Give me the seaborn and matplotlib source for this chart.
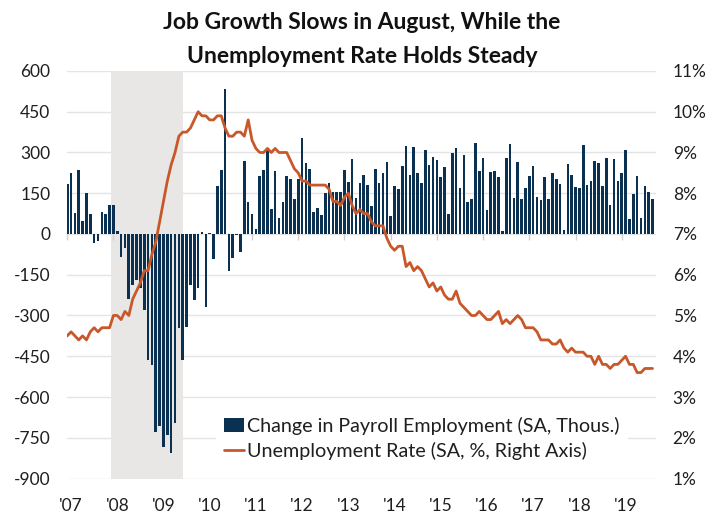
import matplotlib
matplotlib.use("Agg")
import matplotlib.pyplot as plt
import seaborn as sns
import numpy as np
import pandas as pd
from matplotlib.patches import Patch
from matplotlib.lines import Line2D

# ---------------- data (monthly, Dec 2006 .. Aug 2019) ----------------
months = pd.period_range("2006-12", "2019-08", freq="M").astype(str).tolist()

payroll_change = [
    183,                                                             # Dec 2006
    224, 76, 236, 48, 150, 74, -34, -25, 80, 74, 106, 108,           # 2007
    11, -84, -50, -239, -187, -168, -198, -280, -462, -484, -729, -708,   # 2008
    -784, -741, -806, -695, -345, -465, -344, -188, -243, -200, 9, -270,  # 2009
    3, -93, 177, 236, 534, -137, -90, -3, -66, 267, 119, 72,         # 2010
    18, 212, 234, 314, 92, 233, 58, 119, 215, 203, 130, 203,         # 2011
    352, 260, 240, 80, 97, 69, 150, 186, 156, 156, 156, 235,         # 2012
    192, 276, 134, 189, 219, 179, 103, 239, 186, 223, 265, 65,       # 2013
    175, 167, 249, 324, 217, 322, 225, 186, 308, 255, 283, 272,      # 2014
    210, 246, 74, 297, 316, 168, 289, 119, 130, 336, 232, 278,       # 2015
    87, 230, 232, 208, 11, 278, 333, 134, 266, 127, 168, 212,        # 2016
    249, 138, 125, 210, 127, 225, 202, 184, 16, 257, 218, 173,       # 2017
    168, 326, 179, 194, 267, 260, 175, 278, 105, 275, 194, 225,      # 2018
    309, 54, 148, 213, 60, 175, 156, 127,                            # 2019
]

unemployment_rate = [
    4.5,                                                             # Dec 2006
    4.6, 4.5, 4.4, 4.5, 4.4, 4.6, 4.7, 4.6, 4.7, 4.7, 4.7, 5.0,      # 2007
    5.0, 4.9, 5.1, 5.0, 5.4, 5.6, 5.8, 6.1, 6.1, 6.5, 6.8, 7.3,      # 2008
    7.8, 8.3, 8.7, 9.0, 9.4, 9.5, 9.5, 9.6, 9.8, 10.0, 9.9, 9.9,     # 2009
    9.8, 9.8, 9.9, 9.9, 9.6, 9.4, 9.4, 9.5, 9.5, 9.4, 9.8, 9.3,      # 2010
    9.1, 9.0, 9.0, 9.1, 9.0, 9.1, 9.0, 9.0, 9.0, 8.8, 8.6, 8.5,      # 2011
    8.3, 8.3, 8.2, 8.2, 8.2, 8.2, 8.2, 8.1, 7.8, 7.8, 7.7, 7.9,      # 2012
    8.0, 7.7, 7.5, 7.6, 7.5, 7.5, 7.3, 7.2, 7.2, 7.2, 6.9, 6.7,      # 2013
    6.6, 6.7, 6.7, 6.2, 6.3, 6.1, 6.2, 6.1, 5.9, 5.7, 5.8, 5.6,      # 2014
    5.7, 5.5, 5.4, 5.4, 5.6, 5.3, 5.2, 5.1, 5.0, 5.0, 5.1, 5.0,      # 2015
    4.9, 4.9, 5.0, 5.1, 4.8, 4.9, 4.8, 4.9, 5.0, 4.9, 4.7, 4.7,      # 2016
    4.7, 4.6, 4.4, 4.4, 4.4, 4.3, 4.3, 4.4, 4.2, 4.1, 4.2, 4.1,      # 2017
    4.1, 4.1, 4.0, 4.0, 3.8, 4.0, 3.8, 3.8, 3.7, 3.8, 3.8, 3.9,      # 2018
    4.0, 3.8, 3.8, 3.6, 3.6, 3.7, 3.7, 3.7,                          # 2019
]

year_labels = ["'07", "'08", "'09", "'10", "'11", "'12", "'13",
               "'14", "'15", "'16", "'17", "'18", "'19"]
left_ticks = [-900, -750, -600, -450, -300, -150, 0, 150, 300, 450, 600]
right_ticks = [1, 2, 3, 4, 5, 6, 7, 8, 9, 10, 11]
recession = ("2007-12", "2009-06")

title = "Job Growth Slows in August, While the\nUnemployment Rate Holds Steady"
bar_label = "Change in Payroll Employment (SA, Thous.)"
line_label = "Unemployment Rate (SA, %, Right Axis)"

# ---------------- styling ----------------
sns.set_theme(style="white")
plt.rcParams["font.family"] = ["Lato", "DejaVu Sans"]

BAR_COLOR = "#0B3152"
LINE_COLOR = "#C8582A"
GRID_COLOR = "#E4E4E4"
SHADE_COLOR = "#E9E7E5"
TEXT_COLOR = "#1F1F1F"

df = pd.DataFrame({"month": months,
                   "idx": np.arange(len(months)),
                   "payroll": payroll_change,
                   "rate": unemployment_rate})

W, H = 715, 513
fig = plt.figure(figsize=(W / 100, H / 100), dpi=100)
ax = fig.add_axes([67 / W, 1 - 478.5 / H, (656 - 67) / W, (478.5 - 71) / H])

# gridlines
ax.set_ylim(-900, 600)
ax.set_yticks(left_ticks)
ax.yaxis.grid(True, color=GRID_COLOR, linewidth=1.0, zorder=0)
ax.set_axisbelow(True)

# recession shading
rs = months.index(recession[0])
re_ = months.index(recession[1])
ax.axvspan(rs - 0.6, re_, color=SHADE_COLOR, zorder=1, linewidth=0)

# bars
sns.barplot(data=df, x="idx", y="payroll", color=BAR_COLOR, saturation=1,
            width=0.68, ax=ax, zorder=2, linewidth=0)

# small tick marks along zero line at year boundaries (December positions)
dec_pos = [i for i, m in enumerate(months) if m.endswith("-12")]
ax.vlines(dec_pos, -22, 0, color="#D0D0D0", linewidth=1.0, zorder=1.5)

ax.set_xlim(-0.05, len(months) - 0.1)
jan_pos = [i for i, m in enumerate(months) if m.endswith("-01")]
ax.set_xticks(jan_pos)
ax.set_xticklabels(year_labels)
ax.set_yticklabels([str(v) for v in left_ticks])
ax.tick_params(axis="x", length=0, pad=14, labelsize=12.5, colors=TEXT_COLOR)
ax.tick_params(axis="y", length=0, pad=12, labelsize=12.5, colors=TEXT_COLOR)
ax.set_xlabel("")
ax.set_ylabel("")
for s in ax.spines.values():
    s.set_visible(False)

# unemployment line
ax2 = ax.twinx()
sns.lineplot(data=df, x="idx", y="rate", color=LINE_COLOR, linewidth=2.0,
             ax=ax2, zorder=3)
ax2.set_ylim(1, 11)
ax2.set_yticks(right_ticks)
ax2.set_yticklabels([f"{v}%" for v in right_ticks])
ax2.tick_params(axis="y", length=0, pad=12, labelsize=12.5, colors=TEXT_COLOR)
ax2.set_xlim(ax.get_xlim())
ax2.set_ylabel("")
ax2.set_xlabel("")
ax2.grid(False)
for s in ax2.spines.values():
    s.set_visible(False)

# legend
handles = [Patch(facecolor=BAR_COLOR, edgecolor="none"),
           Line2D([0], [0], color=LINE_COLOR, linewidth=2.0)]
leg = ax2.legend(handles, [bar_label, line_label], loc="center",
                 bbox_to_anchor=(422 / W, 1 - 438 / H),
                 bbox_transform=fig.transFigure, frameon=True,
                 facecolor="white", edgecolor="none", framealpha=1,
                 fontsize=14.2, handlelength=1.0, handletextpad=0.15,
                 labelspacing=0.35, borderpad=0.45, borderaxespad=0,
                 fancybox=False)
for t in leg.get_texts():
    t.set_color(TEXT_COLOR)
leg.set_zorder(10)

# title
fig.text(362 / W, 1 - 12 / H, title, ha="center", va="top", fontsize=16.5,
         fontweight="bold", color="#111111", linespacing=1.75)

fig.savefig("out.png", dpi=100)
